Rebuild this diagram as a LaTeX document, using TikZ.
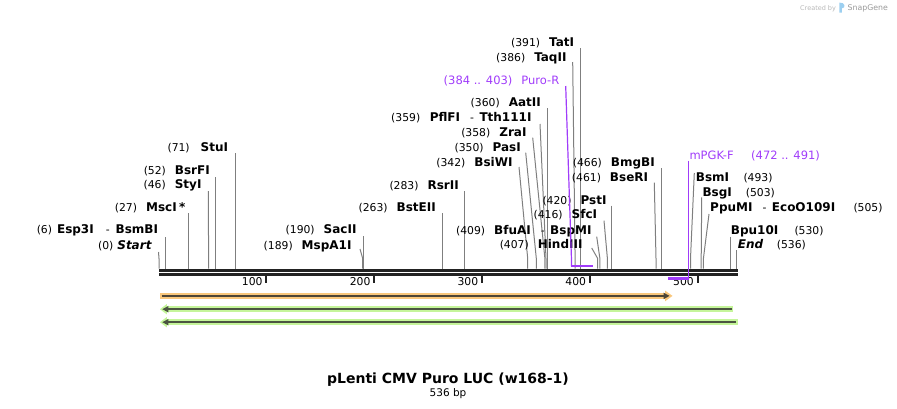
\documentclass[tikz,border=0pt]{standalone}
\usepackage{fontspec}
\setmainfont{DejaVu Sans}
\usetikzlibrary{arrows.meta}
\definecolor{rulercol}{HTML}{222222}
\definecolor{cutcol}{HTML}{7F7F7F}
\definecolor{primcol}{RGB}{160,60,250}
\definecolor{orangef}{HTML}{F9C77C}
\definecolor{orangedark}{HTML}{4D4536}
\definecolor{greenf}{HTML}{C5F59A}
\definecolor{greendark}{HTML}{4B5541}
\definecolor{logoblue}{HTML}{9CCFF0}
\newcommand{\enz}[1]{{\fontsize{12}{14}\selectfont\bfseries #1}}
\newcommand{\enzi}[1]{{\fontsize{12}{14}\selectfont\bfseries\itshape #1}}
\begin{document}
\begin{tikzpicture}[x=1pt,y=-1pt,
  lbl/.style={inner sep=0pt, font=\fontsize{10.8}{13}\selectfont},
  lblL/.style={lbl, anchor=base east},
  lblR/.style={lbl, anchor=base west},
  primlbl/.style={inner sep=0pt, font=\fontsize{11.5}{13}\selectfont, text=primcol},
  cutline/.style={draw=cutcol, line width=1pt},
  rulerbar/.style={draw=rulercol, line width=3pt},
  tickmark/.style={draw=rulercol, line width=2pt},
  primline/.style={draw=primcol, line width=1.2pt},
  primbar/.style={draw=primcol, line width=2.2pt}]
\useasboundingbox (0,0) rectangle (897,408);

% ruler
\coordinate (r0a) at (159,270);
\coordinate (r1a) at (737.5,270);
\coordinate (r0b) at (159,274.4);
\coordinate (r1b) at (737.5,274.4);
\draw[rulerbar] (r0a) -- (r1a);
\draw[rulerbar] (r0b) -- (r1b);

% ticks
\foreach \v in {100,200,300,400,500}{
  \pgfmathsetmacro{\tx}{159+1.078*\v-0.5}
  \coordinate (tk\v) at (\tx,276);
  \coordinate (tke\v) at (\tx,283);
  \draw[tickmark] (tk\v) -- (tke\v);
  \node[lblL] (tl\v) at (\tx-3.5,285.8) {\v};
}

% cut-site leader lines
\foreach \n/\tx/\ty/\px in {start/158.5/252/159, esp/165.5/237/165.5, msc/188.1/213/188.1,
  sty/208.3/191/208.6, bsrf/215.1/177/215.1, stu/235.5/153/235.5, mspa/360/249/362.7,
  sac/363.8/236/363.8, bste/442.5/213/442.5, rsr/464.1/191/464.1, bsiw/519/167/527.7,
  pas/525.7/152.7/536.3, zra/532.7/137.7/544.9, pflf/540/124/546, aat/547.1/108/547.1,
  taq/572.7/62/575.1, tat/580.5/48/580.5, bfua/596.7/236.7/599.9, hind/591.7/248/597.7,
  sfc/604/220.7/607.4, pst/611.8/205.7/611.8, bser/654.3/182.7/656, bmgb/661.3/168.3/661.3,
  bsm/694.3/173/690.5, bsg/701.7/197.3/701.2, ppu/709/214/703.4, bpu/730.3/236.7/730.3,
  end/736.8/250/736.8}{
  \coordinate (t-\n) at (\tx,\ty);
  \coordinate (k-\n) at (\px,258.5);
  \coordinate (b-\n) at (\px,268.6);
  \draw[cutline] (t-\n) -- (k-\n) -- (b-\n);
}

% left-side labels
\node[lblL] (l-start) at (151.7,249.3) {(0)\hspace{4pt}\enzi{Start}};
\node[lblL] (l-esp) at (158.3,233.6) {(6)\hspace{5pt}\enz{Esp3I}\hspace{12pt}-\hspace{6pt}\enz{BsmBI}};
\node[lblL] (l-msc) at (185.7,211) {(27)\hspace{9pt}\enz{MscI}\hspace{2.5pt}\enz{*}};
\node[lblL] (l-sty) at (201.7,188.6) {(46)\hspace{9pt}\enz{StyI}};
\node[lblL] (l-bsrf) at (210,174.3) {(52)\hspace{9pt}\enz{BsrFI}};
\node[lblL] (l-stu) at (228.3,151.6) {(71)\hspace{11pt}\enz{StuI}};
\node[lblL] (l-mspa) at (351.7,249.3) {(189)\hspace{9pt}\enz{MspA1I}};
\node[lblL] (l-sac) at (356.7,233.6) {(190)\hspace{9pt}\enz{SacII}};
\node[lblL] (l-bste) at (436,211) {(263)\hspace{9pt}\enz{BstEII}};
\node[lblL] (l-rsr) at (459,189.3) {(283)\hspace{9pt}\enz{RsrII}};
\node[lblL] (l-bsiw) at (512.7,166) {(342)\hspace{9pt}\enz{BsiWI}};
\node[lblL] (l-pas) at (521,151) {(350)\hspace{9pt}\enz{PasI}};
\node[lblL] (l-zra) at (526.7,136) {(358)\hspace{9pt}\enz{ZraI}};
\node[lblL] (l-pflf) at (531.7,121) {(359)\hspace{9.5pt}\enz{PflFI}\hspace{10pt}-\hspace{5.5pt}\enz{Tth111I}};
\node[lblL] (l-aat) at (541,106) {(360)\hspace{9pt}\enz{AatII}};
\node[primlbl, anchor=base east] (l-puro) at (559.5,84.3) {(384 .. 403)\hspace{9pt}Puro-R};
\node[lblL] (l-taq) at (566.7,61) {(386)\hspace{9pt}\enz{TaqII}};
\node[lblL] (l-tat) at (574.3,46) {(391)\hspace{9pt}\enz{TatI}};
\node[lblL] (l-bfua) at (591.7,234.3) {(409)\hspace{9pt}\enz{BfuAI}\hspace{10pt}-\hspace{5.5pt}\enz{BspMI}};
\node[lblL] (l-hind) at (582.7,248.6) {(407)\hspace{9pt}\enz{HindIII}};
\node[lblL] (l-sfc) at (597.3,218.6) {(416)\hspace{9pt}\enz{SfcI}};
\node[lblL] (l-pst) at (606.7,204.3) {(420)\hspace{9pt}\enz{PstI}};
\node[lblL] (l-bser) at (648.3,181.3) {(461)\hspace{9pt}\enz{BseRI}};
\node[lblL] (l-bmgb) at (655,166.3) {(466)\hspace{9pt}\enz{BmgBI}};

% right-side labels
\node[primlbl, anchor=base west] (l-mpgk) at (689.3,159.3) {mPGK-F};
\node[primlbl, anchor=base west] (n-mpgk) at (751,159.3) {(472 .. 491)};
\node[lblR] (l-bsm) at (695.7,181) {\enz{BsmI}};
\node[lblR] (n-bsm) at (743.3,181) {(493)};
\node[lblR] (l-bsg) at (702.3,196) {\enz{BsgI}};
\node[lblR] (n-bsg) at (745.7,196) {(503)};
\node[lblR] (l-ppu) at (710,211) {\enz{PpuMI}\hspace{10pt}-\hspace{5.5pt}\enz{EcoO109I}};
\node[lblR] (n-ppu) at (853.3,211) {(505)};
\node[lblR] (l-bpu) at (730.7,234.3) {\enz{Bpu10I}};
\node[lblR] (n-bpu) at (794.3,234.3) {(530)};
\node[lblR] (l-end) at (737.7,248.6) {\enzi{End}};
\node[lblR] (n-end) at (776.7,248.6) {(536)};

% primer features (purple)
\coordinate (pr-top) at (565.7,86);
\coordinate (pr-k) at (571.5,260);
\coordinate (pr-a) at (571.5,266);
\coordinate (pr-b) at (592.5,266);
\draw[primline] (pr-top) -- (pr-k) -- (pr-a);
\draw[primbar] (570.9,266) -- (pr-b);
\coordinate (pg-top) at (688.3,160.7);
\coordinate (pg-a) at (688.3,278.5);
\coordinate (pg-b) at (667.5,278.5);
\draw[primline] (pg-top) -- (pg-a);
\draw[primbar] (688.9,278.5) -- (pg-b);

% orange feature (forward)
\fill[orangef] (160,293.3) rectangle (666,298.5);
\fill[orangef] (665,290.5) -- (672.5,295.9) -- (665,301.3) -- cycle;
\draw[orangedark, line width=2pt] (161.5,295.9) -- (665,295.9);
\fill[orangedark] (663.5,292.6) -- (669.5,295.9) -- (663.5,299.2) -- cycle;

% green features (reverse)
\foreach \yy/\xe/\xd in {309.2/733.3/731.7, 322.2/737.7/736}{
  \fill[greenf] (165,\yy-2.9) rectangle (\xe,\yy+2.9);
  \fill[greenf] (160,\yy) -- (166.8,\yy-5.2) -- (166.8,\yy+5.2) -- cycle;
  \draw[greendark, line width=2pt] (166,\yy) -- (\xd,\yy);
  \fill[greendark] (162.4,\yy) -- (168.4,\yy-3.3) -- (168.4,\yy+3.3) -- cycle;
}

% title
\node[inner sep=0pt, anchor=base, font=\fontsize{14}{16}\selectfont\bfseries] (title) at (448,383) {pLenti CMV Puro LUC (w168-1)};
\node[inner sep=0pt, anchor=base, font=\fontsize{10.5}{12}\selectfont] (size) at (448,396) {536 bp};

% watermark
\node[inner sep=0pt, anchor=base west, text=black!28, font=\fontsize{6.5}{8}\selectfont] (cb) at (800,10) {Created by};
\fill[logoblue] (839.3,12.5) -- (839.3,2.5) .. controls (845.5,2.2) and (846,8.2) .. (841.8,8.4) -- (841.8,12.5) -- cycle;
\node[inner sep=0pt, anchor=base west, text=black!40, font=\fontsize{7.8}{9}\selectfont] (sg) at (847.5,10.3) {SnapGene};
\end{tikzpicture}
\end{document}
